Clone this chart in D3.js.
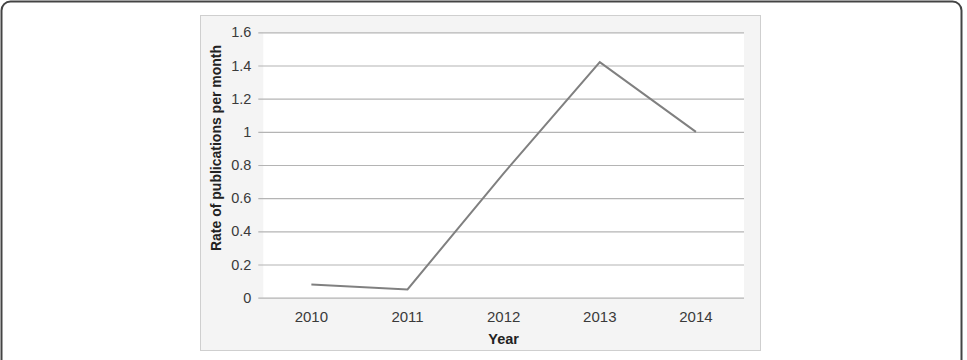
<!DOCTYPE html>
<html>
<head>
<meta charset="utf-8">
<script src="https://cdn.jsdelivr.net/npm/d3@7"></script>
<style>
  body { margin: 0; background: #fff; }
  svg { display: block; font-family: "Liberation Sans", Arial, sans-serif; }
</style>
</head>
<body>
<svg id="chart" width="967" height="360"></svg>
<script>
  let years = ["2010", "2011", "2012", "2013", "2014"];
  let rates = [0.08, 0.05, 0.75, 1.42, 1.0];
  let yTicks = [0, 0.2, 0.4, 0.6, 0.8, 1, 1.2, 1.4, 1.6];

  let svg = d3.select("#chart"),
      margin = { top: 32.3, right: 223, bottom: 62.3, left: 263.3 },
      width = +svg.attr("width") - margin.left - margin.right,
      height = +svg.attr("height") - margin.top - margin.bottom;

  // outer frame
  svg.append("rect")
      .attr("x", 1.5).attr("y", 1.5)
      .attr("width", 960).attr("height", 372)
      .attr("rx", 9)
      .attr("fill", "none")
      .attr("stroke", "#444")
      .attr("stroke-width", 2);

  // chart panel
  svg.append("rect")
      .attr("x", 200.5).attr("y", 15.5)
      .attr("width", 560).attr("height", 335)
      .attr("fill", "#f4f4f4")
      .attr("stroke", "#cfcfcf");

  let g = svg.append("g").attr("transform", "translate(" + margin.left + "," + margin.top + ")");

  let x = d3.scaleBand()
      .domain(years)
      .range([0, width]);

  let y = d3.scaleLinear()
      .domain([0, 1.6])
      .range([height, 0]);

  g.append("rect")
      .attr("width", width)
      .attr("height", height)
      .attr("fill", "#fff");

  // gridlines + ticks
  let yAxis = g.append("g")
      .call(d3.axisLeft(y).tickValues(yTicks).tickSize(-width - 5).tickPadding(7).tickFormat(d3.format("")))
      .attr("transform", "translate(-5,0)");
  yAxis.select(".domain").remove();
  yAxis.selectAll(".tick line").attr("stroke", "#b4b4b4").attr("stroke-width", 1.2)
      .attr("x1", 0);
  yAxis.selectAll(".tick text")
      .attr("fill", "#3a3a3a")
      .attr("font-size", 14.5)
      .attr("font-family", "Liberation Sans, Arial, sans-serif");

  let xAxis = g.append("g")
      .attr("transform", "translate(0," + height + ")")
      .call(d3.axisBottom(x).tickSize(0).tickPadding(14));
  xAxis.select(".domain").remove();
  xAxis.selectAll(".tick text")
      .attr("fill", "#3a3a3a")
      .attr("font-size", 15)
      .attr("font-family", "Liberation Sans, Arial, sans-serif");

  let line = d3.line()
      .x(function(d, i) { return x(years[i]) + x.bandwidth() / 2; })
      .y(function(d) { return y(d); });

  g.append("path")
      .datum(rates)
      .attr("fill", "none")
      .attr("stroke", "#808080")
      .attr("stroke-width", 2)
      .attr("d", line);

  g.append("text")
      .attr("x", width / 2)
      .attr("y", height + 46)
      .attr("text-anchor", "middle")
      .attr("font-size", 14.5)
      .attr("font-weight", "bold")
      .attr("fill", "#222")
      .text("Year");

  g.append("text")
      .attr("transform", "translate(" + (-42) + "," + (148 - margin.top) + ") rotate(-90)")
      .attr("text-anchor", "middle")
      .attr("font-size", 14)
      .attr("font-weight", "bold")
      .attr("fill", "#222")
      .text("Rate of publications per month");
</script>
</body>
</html>
